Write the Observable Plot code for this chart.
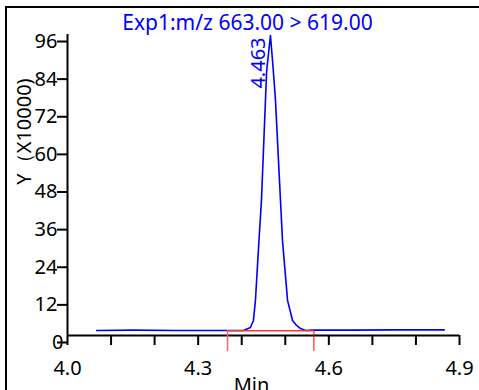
<!DOCTYPE html>
<html>
<head>
<meta charset="utf-8">
<script src="https://cdn.jsdelivr.net/npm/d3@7"></script>
<script src="https://cdn.jsdelivr.net/npm/@observablehq/plot@0.6"></script>
<style>
  html, body { margin: 0; padding: 0; background: #fff; overflow: hidden; width: 479px; height: 390px; }
  #chart { position: absolute; left: 0; top: 0; }
  #border { position: absolute; left: 5px; top: 6px; width: 520px; height: 520px; border: 2px solid #000; pointer-events: none; }
</style>
</head>
<body>
<div id="chart"></div>
<div id="border"></div>
<script>
// Chromatogram trace (retention time in min, intensity in units of 10000)
const time = [4.067, 4.15, 4.25, 4.35, 4.39, 4.4039, 4.4200, 4.4269, 4.4315, 4.4396, 4.4453, 4.4545, 4.4573, 4.4660,
              4.4725, 4.4775, 4.4890, 4.4936, 4.5052, 4.5167, 4.5259, 4.5351, 4.5466, 4.56, 4.65, 4.75, 4.865];
const intensity = [1.6, 1.7, 1.6, 1.6, 1.6, 1.6, 2.55, 4.8, 11.2, 30.3, 43.1, 75.0, 84.5, 95.7,
                   84.5, 75.0, 43.1, 30.3, 11.2, 4.8, 3.2, 2.2, 1.6, 1.7, 1.7, 1.8, 1.8];

// Integration baseline (start / end of peak)
const baseStart = [4.3675, 1.5];
const baseEnd = [4.5657, 1.5];

// Peak annotation
const peakTime = 4.463;
const peakHeight = 95.7;
const peakLabel = "4.463";

const title = "Exp1:m/z 663.00 > 619.00";
const yTitle = "Y（X10000)";
const xTitle = "Min";

const xTicks = [4.0, 4.1, 4.2, 4.3, 4.4, 4.5, 4.6, 4.7, 4.8, 4.9];
const xLabelTicks = [4.0, 4.3, 4.6, 4.9];
const yTicks = [0, 12, 24, 36, 48, 60, 72, 84, 96];

const trace = time.map((t, i) => ({t, v: intensity[i]}));
const f1 = d3.format(".1f");

const plot = Plot.plot({
  width: 479,
  height: 390,
  marginLeft: 67,
  marginRight: 20,
  marginTop: 34,
  marginBottom: 55,
  style: {fontFamily: "'Noto Sans', sans-serif", fontSize: "20px", background: "transparent", color: "#000"},
  x: {domain: [4.0, 4.9]},
  y: {domain: [0, 96]},
  marks: [
    // axis lines
    Plot.ruleY([0], {stroke: "#000", strokeWidth: 2}),
    Plot.ruleX([4.0], {y1: 0, y2: 96, stroke: "#000", strokeWidth: 2}),
    // x ticks and labels
    Plot.axisX({ticks: xTicks, tickSize: 10, tickFormat: () => "", label: null, strokeWidth: 2, stroke: "#000"}),
    Plot.axisX({ticks: xLabelTicks, tickSize: 0, tickPadding: 25, tickFormat: f1, label: null, fill: "#000"}),
    // y ticks and labels
    Plot.axisY({ticks: yTicks, tickSize: 10, tickPadding: 0, tickFormat: d => d === 0 ? "" : String(d), label: null, strokeWidth: 2, stroke: "#000", fill: "#000", dy: 7}),
    Plot.text([0], {frameAnchor: "left", y: d => d, text: d => String(d), textAnchor: "end", dx: -4, dy: 7, fill: "#000"}),
    // trace
    Plot.line(trace, {x: "t", y: "v", stroke: "#0000ff", strokeWidth: 1.6}),
    // integration baseline and drop lines
    Plot.link([{a: baseStart, b: baseEnd}], {x1: d => d.a[0], y1: d => d.a[1], x2: d => d.b[0], y2: d => d.b[1], stroke: "#ff3030", strokeWidth: 1.5}),
    Plot.ruleX([baseStart], {x: d => d[0], y1: d => d[1], y2: 0, insetBottom: -16, stroke: "#ff6060", strokeWidth: 1.5}),
    Plot.ruleX([baseEnd], {x: d => d[0], y1: d => d[1], y2: 0, insetBottom: -16, stroke: "#ff0000", strokeWidth: 1}),
    // peak label
    Plot.text([{t: peakTime, v: peakHeight}], {x: "t", y: "v", text: () => peakLabel, rotate: -90, textAnchor: "end", lineAnchor: "middle", dx: -11, dy: 2, fill: "#0000ff"}),
    // title
    Plot.text([title], {frameAnchor: "top", text: d => d, lineAnchor: "top", dx: -16, dy: -19, fontSize: 21, fill: "#0000ff"}),
    // y title
    Plot.text([yTitle], {frameAnchor: "top-left", text: d => d, rotate: -90, textAnchor: "middle", lineAnchor: "middle", dx: -43, dy: 97, fill: "#000"}),
    // x title
    Plot.text([xTitle], {frameAnchor: "bottom", text: d => d, lineAnchor: "top", dx: -12, dy: 42, fill: "#000"})
  ]
});
document.getElementById("chart").appendChild(plot);
</script>
</body>
</html>
